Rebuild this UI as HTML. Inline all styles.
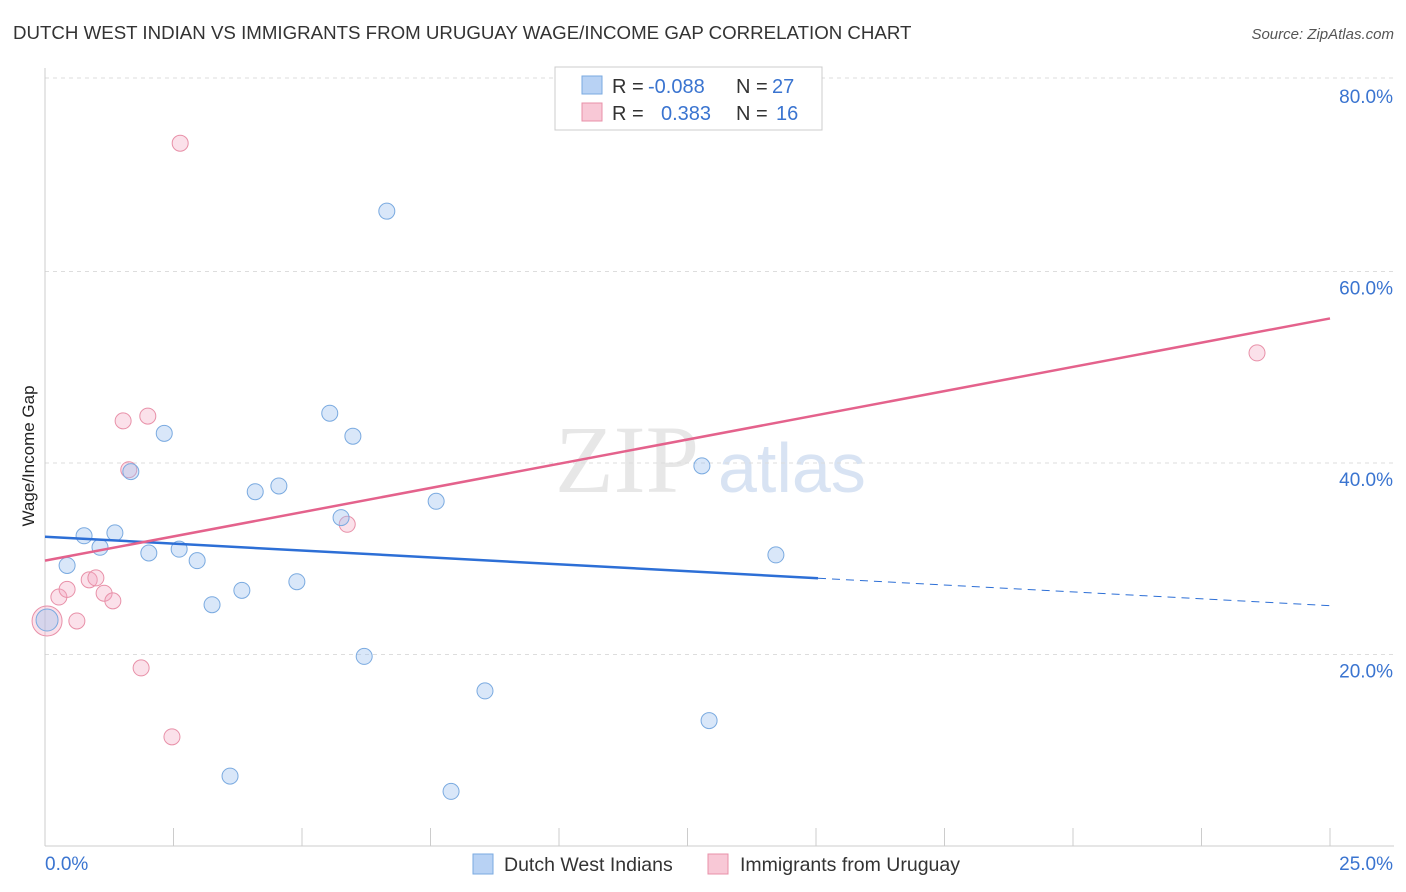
<!DOCTYPE html>
<html><head><meta charset="utf-8"><style>
body{margin:0;background:#fff;font-family:"Liberation Sans",sans-serif;}
#wrap{position:relative;width:1406px;height:892px;overflow:hidden;}
</style></head><body>
<div id="wrap">
<svg id="svg" width="1406" height="892">
<text x="13" y="39" font-size="18.7" fill="#333">DUTCH WEST INDIAN VS IMMIGRANTS FROM URUGUAY WAGE/INCOME GAP CORRELATION CHART</text>
<text x="1394" y="39" font-size="15" fill="#555" text-anchor="end" font-style="italic">Source: ZipAtlas.com</text>
<text x="34" y="456" font-size="17" fill="#222" text-anchor="middle" transform="rotate(-90 34 456)">Wage/Income Gap</text>
<g><text x="555" y="492" font-size="96" fill="#ddd" font-family="Liberation Serif,serif" opacity="0.7">ZIP</text><text x="718" y="492" font-size="70" fill="#c8d8ee" opacity="0.7">atlas</text></g>
<g id="grid"></g><g id="axes"></g><g id="marks"></g>
<g>
<rect x="555" y="67" width="267" height="63" fill="#fff" stroke="#ccc"/>
<rect x="582" y="76" width="20" height="18" fill="#b8d2f4" stroke="#7aaae0"/>
<rect x="582" y="103" width="20" height="18" fill="#f8c8d6" stroke="#e890a8"/>
<text x="612" y="93" font-size="20" fill="#333">R =</text>
<text x="648" y="93" font-size="20" fill="#3a74d0">-0.088</text>
<text x="736" y="93" font-size="20" fill="#333">N =</text>
<text x="772" y="93" font-size="20" fill="#3a74d0">27</text>
<text x="612" y="120" font-size="20" fill="#333">R =</text>
<text x="661" y="120" font-size="20" fill="#3a74d0">0.383</text>
<text x="736" y="120" font-size="20" fill="#333">N =</text>
<text x="776" y="120" font-size="20" fill="#3a74d0">16</text>
</g>
<g>
<rect x="473" y="854" width="20" height="20" fill="#b8d2f4" stroke="#7aaae0"/>
<text x="504" y="871" font-size="19.5" fill="#333">Dutch West Indians</text>
<rect x="708" y="854" width="20" height="20" fill="#f8c8d6" stroke="#e890a8"/>
<text x="740" y="871" font-size="19.5" fill="#333">Immigrants from Uruguay</text>
</g>
</svg></div>
<script>
const blueX=[0.43,0.76,1.07,1.36,1.67,2.02,2.32,2.61,2.96,3.25,3.60,3.83,4.09,4.55,4.90,5.54,5.76,5.99,6.21,6.65,7.61,7.90,8.56,12.78,12.92,14.22,0.04];
const blueY=[29.3,32.4,31.2,32.7,39.1,30.6,43.1,31.0,29.8,25.2,7.3,26.7,37.0,37.6,27.6,45.2,34.3,42.8,19.8,66.3,36.0,5.7,16.2,39.7,13.1,30.4,23.6];
const pinkX=[0.04,0.27,0.43,0.62,0.86,0.99,1.15,1.32,1.52,1.63,1.87,2.00,2.47,2.63,5.88,23.58];
const pinkY=[23.5,26.0,26.8,23.5,27.8,28.0,26.4,25.6,44.4,39.3,18.6,44.9,11.4,73.4,33.6,51.5];
const blueTrend=[32.3,25.1];
const pinkTrend=[29.8,55.1];
const yTicks=[20,40,60,80];
const xTickLabels=["0.0%","25.0%"];
const NS="http://www.w3.org/2000/svg";
const X=v=>45+v/25*1285, Y=v=>846-v*9.575;
function mk(p,t,a){const e=document.createElementNS(NS,t);for(const k in a)e.setAttribute(k,a[k]);document.getElementById(p).appendChild(e);return e;}
yTicks.forEach(t=>{
 const l=mk('grid','line',{x1:45,x2:1394,y1:t==80?Y(t)-2:Y(t),y2:t==80?Y(t)-2:Y(t),stroke:'#ddd','stroke-dasharray':'4 4'});
 
 
 const tx=mk('axes','text',{x:1393,y:Y(t)+23,'font-size':19,fill:'#3a74d0','text-anchor':'end'});tx.textContent=t.toFixed(1)+'%';
 
 
});
const ax=mk('axes','line',{x1:45,x2:1394,y1:846,y2:846,stroke:'#ccc'});


const ay=mk('axes','line',{x1:45,x2:45,y1:68,y2:846,stroke:'#ccc'});


for(let i=0;i<=10;i++){const t=mk('axes','line',{x1:X(i*2.5),x2:X(i*2.5),y1:828,y2:846,stroke:'#ccc'});
 
 }
const l0=mk('axes','text',{x:45,y:870,'font-size':19,fill:'#3a74d0'});l0.textContent=xTickLabels[0];


const l1=mk('axes','text',{x:1393,y:870,'font-size':19,fill:'#3a74d0','text-anchor':'end'});l1.textContent=xTickLabels[1];


pinkX.forEach((x,i)=>{const c=mk('marks','circle',{cx:X(x),cy:Y(pinkY[i]),r:i==0?15:8,fill:'rgba(244,170,195,0.35)',stroke:'#e890a8','stroke-width':1});
 
 });
blueX.forEach((x,i)=>{const c=mk('marks','circle',{cx:X(x),cy:Y(blueY[i]),r:i==26?11:8,fill:'rgba(160,196,240,0.4)',stroke:'#7aaae0','stroke-width':1});
 
 });
const bs=(blueTrend[1]-blueTrend[0])/25, cut=(818-45)/1285*25;
const b1=mk('marks','line',{x1:X(0),y1:Y(blueTrend[0]),x2:X(cut),y2:Y(blueTrend[0]+bs*cut),stroke:'#2d6fd6','stroke-width':2.5});


const b2=mk('marks','line',{x1:X(cut),y1:Y(blueTrend[0]+bs*cut),x2:X(25),y2:Y(blueTrend[1]),stroke:'#2d6fd6','stroke-width':1,'stroke-dasharray':'8 6'});


const p1=mk('marks','line',{x1:X(0),y1:Y(pinkTrend[0]),x2:X(25),y2:Y(pinkTrend[1]),stroke:'#e4628c','stroke-width':2.5});


</script>
</body></html>
